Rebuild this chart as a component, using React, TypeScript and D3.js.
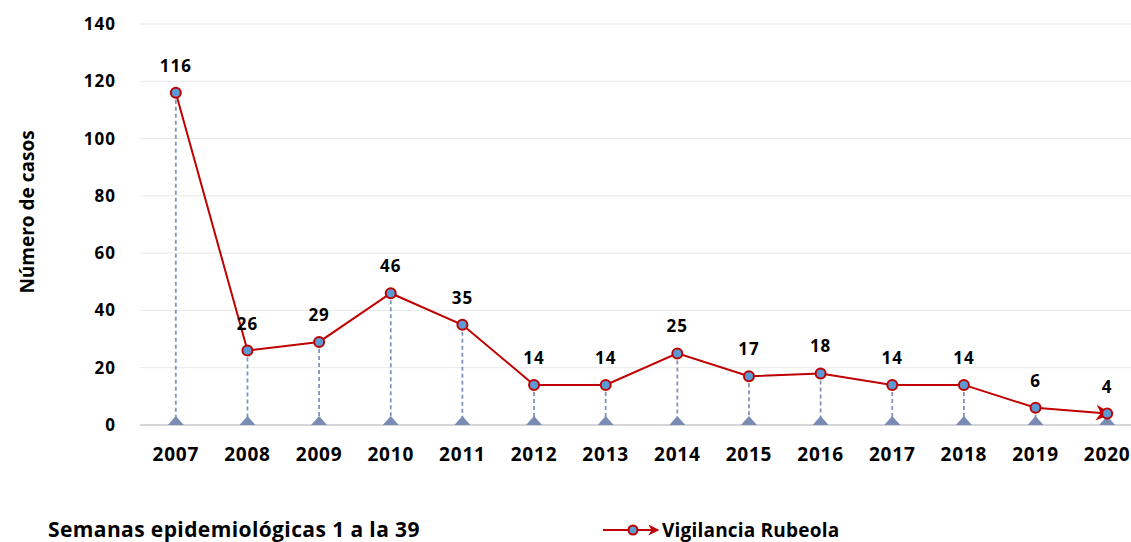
import React, { useEffect, useRef } from 'react';
import * as d3 from 'd3';

const years = ['2007', '2008', '2009', '2010', '2011', '2012', '2013', '2014', '2015', '2016', '2017', '2018', '2019', '2020'];
const cases = [116, 26, 29, 46, 35, 14, 14, 25, 17, 18, 14, 14, 6, 4];
const yTicks = [0, 20, 40, 60, 80, 100, 120, 140];

const width = 1131;
const height = 542;
const font = '"Open Sans", sans-serif';

const App: React.FC = () => {
    const svgRef = useRef<SVGSVGElement>(null);

    useEffect(() => {
        if (!svgRef.current) return;
        const svg = d3.select(svgRef.current);
        svg.selectAll('*').remove();

        const x = d3.scaleBand<string>().domain(years).range([140, 1143]).padding(0);
        const y = d3.scaleLinear().domain([0, 140]).range([425, 24]);
        const cx = (d: string) => (x(d) || 0) + x.bandwidth() / 2;

        // arrow head markers
        const defs = svg.append('defs');
        const addArrow = (id: string, size: number) =>
            defs.append('marker')
                .attr('id', id)
                .attr('viewBox', '0 0 10 10')
                .attr('refX', 7)
                .attr('refY', 5)
                .attr('markerWidth', size)
                .attr('markerHeight', size)
                .attr('markerUnits', 'userSpaceOnUse')
                .attr('orient', 'auto')
                .append('path')
                .attr('d', 'M0,0 L10,5 L0,10 L3,5 Z')
                .attr('fill', '#C00000');
        addArrow('arrow', 11);
        addArrow('arrowBig', 16);

        // gridlines
        svg.append('g')
            .selectAll('line')
            .data(yTicks.filter(t => t > 0))
            .join('line')
            .attr('x1', 140)
            .attr('x2', width)
            .attr('y1', d => y(d))
            .attr('y2', d => y(d))
            .attr('stroke', '#E8E8E8')
            .attr('stroke-width', 1);

        // baseline
        svg.append('line')
            .attr('x1', 140)
            .attr('x2', width)
            .attr('y1', y(0))
            .attr('y2', y(0))
            .attr('stroke', '#C8C8C8')
            .attr('stroke-width', 1.5);

        // y tick labels
        svg.append('g')
            .selectAll('text')
            .data(yTicks)
            .join('text')
            .attr('x', 116)
            .attr('y', d => y(d))
            .attr('dy', '0.35em')
            .attr('text-anchor', 'end')
            .style('font', `bold 17px ${font}`)
            .style('letter-spacing', '1px')
            .attr('fill', '#000')
            .text(d => d);

        // x tick labels
        svg.append('g')
            .selectAll('text')
            .data(years)
            .join('text')
            .attr('x', d => cx(d))
            .attr('y', 461)
            .attr('text-anchor', 'middle')
            .style('font', `bold 19px ${font}`)
            .style('letter-spacing', '0.8px')
            .attr('fill', '#000')
            .text(d => d);

        // drop lines
        svg.append('g')
            .selectAll('line')
            .data(years)
            .join('line')
            .attr('x1', d => cx(d))
            .attr('x2', d => cx(d))
            .attr('y1', (d, i) => y(cases[i]))
            .attr('y2', y(0))
            .attr('stroke', '#8094BC')
            .attr('stroke-width', 1.8)
            .attr('stroke-dasharray', '4,3');

        // base triangles
        svg.append('g')
            .selectAll('path')
            .data(years)
            .join('path')
            .attr('d', d => `M${cx(d) - 8},${y(0)} L${cx(d) + 8},${y(0)} L${cx(d)},${y(0) - 9} Z`)
            .attr('fill', '#7A8CB4');

        // line
        const line = d3.line<number>()
            .x((d, i) => cx(years[i]))
            .y(d => y(d));
        svg.append('path')
            .datum(cases)
            .attr('d', line)
            .attr('fill', 'none')
            .attr('stroke', '#C00000')
            .attr('stroke-width', 2)
            .attr('marker-end', 'url(#arrowBig)');

        // points
        svg.append('g')
            .selectAll('circle')
            .data(cases)
            .join('circle')
            .attr('cx', (d, i) => cx(years[i]))
            .attr('cy', d => y(d))
            .attr('r', 5)
            .attr('fill', '#5B9BD5')
            .attr('stroke', '#C00000')
            .attr('stroke-width', 2);

        // data labels
        svg.append('g')
            .selectAll('text')
            .data(cases)
            .join('text')
            .attr('x', (d, i) => cx(years[i]))
            .attr('y', d => y(d) - 21)
            .attr('text-anchor', 'middle')
            .style('font', `bold 17px ${font}`)
            .style('letter-spacing', '1px')
            .attr('fill', '#000')
            .text(d => d);

        // y axis title
        svg.append('text')
            .attr('transform', 'translate(27,212) rotate(-90)')
            .attr('text-anchor', 'middle')
            .attr('dy', '0.35em')
            .style('font', `bold 19px ${font}`)
            .attr('fill', '#000')
            .text('Número de casos');

        // footnote
        svg.append('text')
            .attr('x', 48)
            .attr('y', 537)
            .style('font', `bold 21px ${font}`)
            .style('letter-spacing', '0.4px')
            .attr('fill', '#000')
            .text('Semanas epidemiológicas 1 a la 39');

        // legend
        const lg = svg.append('g').attr('transform', 'translate(603,530)');
        lg.append('line')
            .attr('x1', 0)
            .attr('x2', 53)
            .attr('y1', 0)
            .attr('y2', 0)
            .attr('stroke', '#C00000')
            .attr('stroke-width', 2)
            .attr('marker-end', 'url(#arrow)');
        lg.append('circle')
            .attr('cx', 30)
            .attr('cy', 0)
            .attr('r', 4.5)
            .attr('fill', '#5B9BD5')
            .attr('stroke', '#C00000')
            .attr('stroke-width', 2);
        lg.append('text')
            .attr('x', 59)
            .attr('y', 0)
            .attr('dy', '0.35em')
            .style('font', `bold 19px ${font}`)
            .style('letter-spacing', '0.2px')
            .attr('fill', '#000')
            .text('Vigilancia Rubeola');
    }, []);

    return (
        <svg
            ref={svgRef}
            width={width}
            height={height}
            style={{ position: 'absolute', left: 0, top: 0, background: '#fff' }}
        />
    );
};

export default App;
